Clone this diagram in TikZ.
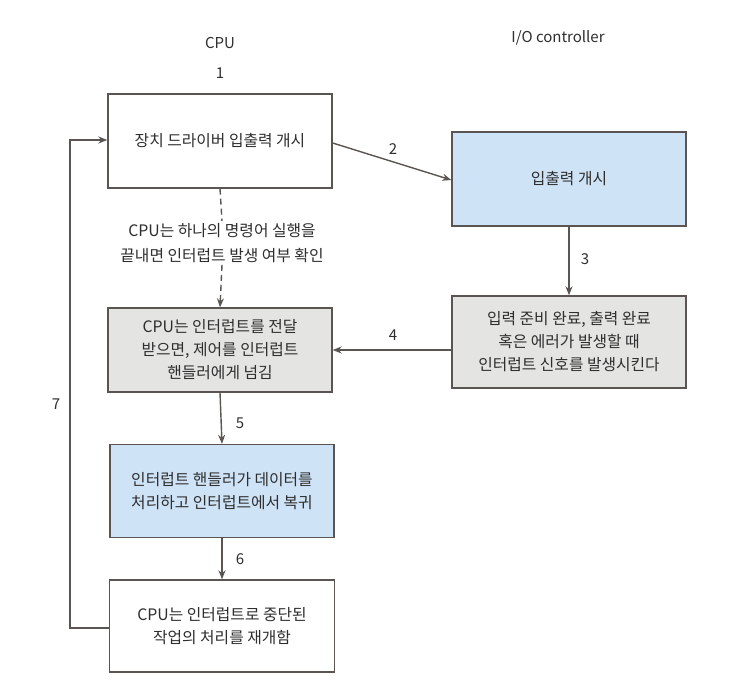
\documentclass[tikz,border=0pt]{standalone}
\usepackage{fontspec}
\setmainfont{Noto Sans CJK KR}
\usetikzlibrary{arrows.meta}
\definecolor{lc}{HTML}{5A5552}
\definecolor{tc}{HTML}{2E2E2E}
\definecolor{bluef}{HTML}{CFE3F7}
\definecolor{grayf}{HTML}{E4E4E2}
\tikzset{
  box/.style={draw=lc, line width=1.4pt, text=tc, align=center, inner sep=0pt,
    font=\fontsize{15.8}{23}\selectfont},
  conn/.style={draw=lc, line width=1.4pt, -{Stealth[length=9pt,width=7pt]}},
  lbl/.style={text=tc, font=\fontsize{15}{17}\selectfont},
}
\begin{document}
\begin{tikzpicture}[x=1pt,y=-1pt]
\useasboundingbox[fill=white] (0,0) rectangle (741,681);
\node[box, fill=white, minimum width=224pt, minimum height=94pt] (b1) at (220,141) {장치 드라이버 입출력 개시};
\node[box, fill=bluef, minimum width=234pt, minimum height=94pt] (b2) at (569,179) {입출력 개시};
\node[box, fill=grayf, minimum width=224pt, minimum height=84pt] (b3) at (220,350) {CPU는 인터럽트를 전달\\받으면, 제어를 인터럽트\\핸들러에게 넘김};
\node[box, fill=grayf, minimum width=234pt, minimum height=92pt] (b4) at (569,342) {입력 준비 완료, 출력 완료\\혹은 에러가 발생할 때\\인터럽트 신호를 발생시킨다};
\node[box, fill=bluef, minimum width=224pt, minimum height=93pt] (b5) at (222,491) {인터럽트 핸들러가 데이터를\\처리하고 인터럽트에서 복귀};
\node[box, fill=white, minimum width=225pt, minimum height=92pt] (b6) at (222,626) {CPU는 인터럽트로 중단된\\작업의 처리를 재개함};

\node[lbl] (cpu) at (220,43) {CPU};
\node[lbl] (ioc) at (558,38) {I/O controller};
\node[lbl] (n1) at (220,73) {1};

\draw[conn] (b1.east) ++(0,2) coordinate (s2) -- (b2.west |- 0,180) coordinate (e2);
\node[lbl] (n2) at (393,149) {2};

\node[text=tc, align=center, font=\fontsize{15.8}{25}\selectfont, fill=white, inner sep=2pt] (note) at (222,243) {CPU는 하나의 명령어 실행을\\끝내면 인터럽트 발생 여부 확인};
\draw[draw=lc, line width=1.4pt, dash pattern=on 6pt off 4pt] (b1.south) -- (note.north);
\draw[conn, dash pattern=on 6pt off 4pt] (note.south) -- (b3.north);

\draw[conn] (b2.south) -- (b4.north);
\node[lbl] (n3) at (585,259) {3};

\draw[conn] (b4.west |- 0,350) -- (b3.east |- 0,350);
\node[lbl] (n4) at (393,335) {4};

\draw[conn] (b3.south) -- (b5.north);
\node[lbl] (n5) at (240,423) {5};

\draw[conn] (b5.south) -- (b6.north);
\node[lbl] (n6) at (240,559) {6};

\draw[conn] (b6.west |- 0,628) -| (70,140) -- (b1.west |- 0,140);
\node[lbl] (n7) at (56,404) {7};
\end{tikzpicture}
\end{document}
